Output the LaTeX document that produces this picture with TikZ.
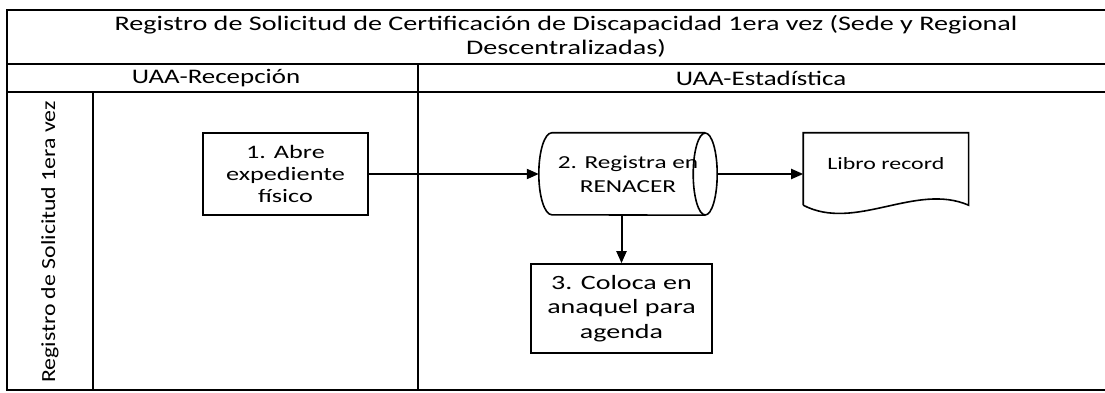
\documentclass[tikz,border=0pt]{standalone}
\usepackage{fontspec}
\setmainfont{Carlito}[FakeStretch=1.3]
\newfontfamily\titlefont{Carlito}[FakeStretch=1.36]
\newfontfamily\boxfont{Carlito}[FakeStretch=1.38]
\newfontfamily\lanefont{Carlito}[FakeStretch=1.19]
\usetikzlibrary{arrows.meta,positioning}
\tikzset{
  frame/.style   = {draw, line width=1.9pt},
  head/.style    = {font=\fontsize{20.7}{24}\selectfont, align=center, inner sep=0pt},
  basic/.style   = {font=\boxfont\fontsize{18}{23}\selectfont, align=center, inner sep=0pt},
  process/.style = {basic, draw, line width=1.6pt, minimum width=165pt, minimum height=82pt},
  storage/.style = {basic, minimum width=178pt, minimum height=82pt},
  docu/.style    = {basic, minimum width=165pt, text height=36pt, text depth=46pt},
  outline/.style = {line width=1.6pt},
  flow/.style    = {-{Triangle[length=12pt,width=10pt]}, line width=2pt}
}

\begin{document}
\begin{tikzpicture}[x=1pt, y=-1pt]
\useasboundingbox (0,0) rectangle (1105,393);

% pool frame and lanes
\draw[frame] (1110,10) -- (7,10) -- (7,390) -- (1110,390);
\draw[frame] (7,64) -- (1110,64);
\draw[frame] (7,92) -- (1110,92);
\draw[frame] (93,92) -- (93,390);
\draw[frame] (418,64) -- (418,390);

% headers
\node[head, font=\titlefont\fontsize{20.7}{24}\selectfont] (title) at (566,36) {Registro de Solicitud de Certificación de Discapacidad 1era vez (Sede y Regional\\Descentralizadas)};
\node[head] (rec) at (216,78) {UAA-Recepción};
\node[head] (est) at (761,78) {UAA-Estadística};
\node[rotate=90, inner sep=0pt, font=\lanefont\fontsize{20}{24}\selectfont] (lane) at (50,242) {Registro de Solicitud 1era vez};

% steps
\node[process, font=\boxfont\fontsize{19}{22}\selectfont] (s1) at (285.5,174) {1. Abre\\expediente\\físico};
\node[storage, font=\boxfont\fontsize{18.3}{24}\selectfont] (s2) at (628,174) {2. Registra en\\RENACER};
\node[docu, right=86pt of s2, font=\boxfont\fontsize{17.3}{22}\selectfont] (libro) {Libro record};
\node[process, below=48pt of s2, xshift=-6.5pt, minimum width=181pt, minimum height=89pt,
      font=\boxfont\fontsize{20.3}{24.5}\selectfont] (s3) {3. Coloca en\\anaquel para\\agenda};

% storage outline
\draw[outline] ([xshift=-12pt]s2.east) ellipse [x radius=12pt, y radius=41pt];
\draw[outline] ([xshift=-12pt]s2.north east) -- ([xshift=13pt]s2.north west)
  arc [start angle=90, end angle=270, x radius=13pt, y radius=41pt] -- ([xshift=-12pt]s2.south east);

% document outline
\draw[outline] ([yshift=10pt]libro.south west) -- (libro.north west) -- (libro.north east)
  -- ([yshift=10pt]libro.south east) .. controls +(-53pt,23pt) and +(52pt,-27pt) .. ([yshift=10pt]libro.south west);

% connectors
\draw[flow] (s1.east) -- (s2.west);
\draw[flow] (s2.east) -- (libro.west);
\draw[flow] (s2.south -| s3.north) -- (s3.north);
\end{tikzpicture}
\end{document}
